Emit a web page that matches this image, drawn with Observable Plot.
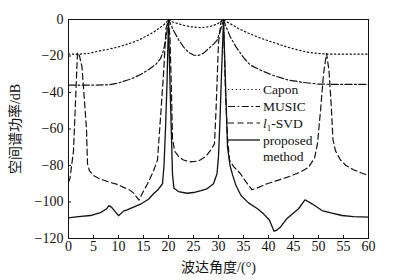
<!DOCTYPE html>
<html>
<head>
<meta charset="utf-8">
<script src="https://cdn.jsdelivr.net/npm/d3@7"></script>
<script src="https://cdn.jsdelivr.net/npm/@observablehq/plot@0.6"></script>
<style>
  html, body { margin: 0; padding: 0; background: #fff; }
</style>
</head>
<body>
<div id="chart"></div>
<script>
// ---- data ----
const xTicks = [0, 5, 10, 15, 20, 25, 30, 35, 40, 45, 50, 55, 60];
const yTicks = [0, -20, -40, -60, -80, -100, -120];

const caponX = [0, 2, 4, 6, 8, 10, 12, 13, 14, 16, 17, 18, 19, 19.5, 20, 20.5, 21, 22, 23.2, 24.5, 26.5, 28, 29, 29.8, 30.5, 31, 31.5, 32, 33, 34, 36, 38, 40, 42, 44, 46, 48, 50, 52, 56, 60];
const caponY = [-19, -19, -18.6, -17.3, -16.3, -15, -13.3, -12.4, -11.3, -8.5, -7, -5, -3, -1.8, 0, -1, -1.5, -2.3, -3.3, -4, -4.5, -4, -3.2, -2.3, -1.2, 0, -1, -1.8, -3.3, -5, -7.5, -9.8, -11.7, -13.5, -15.3, -16.8, -18, -18.6, -19, -19, -19];

const musicX = [0, 4, 8, 10, 12, 13, 14.5, 16, 17.5, 18.4, 19, 19.5, 20, 20.5, 21, 22, 23, 24, 25, 26, 27, 28, 29, 29.7, 30.5, 31, 31.5, 32.4, 33.5, 35.2, 36.4, 38.6, 41, 44, 47, 50, 55, 60];
const musicY = [-36, -36, -35.8, -34.8, -33, -32, -30, -27.5, -24.5, -21.5, -17, -10, 0, -3, -6, -11, -15, -18, -19.5, -19.7, -18.5, -16, -13.5, -11.5, -5, 0, -4, -9.7, -15, -21.5, -25, -28, -30.7, -33.2, -34.5, -35.4, -35.6, -35.6];

const l1svdX = [0, 0.3, 1, 1.4, 1.8, 2.2, 2.7, 3.2, 3.6, 3.8, 4.2, 5, 6, 8, 10, 11, 12, 13, 14.1, 15, 15.8, 17, 17.8, 18.5, 19, 19.5, 20, 20.3, 20.6, 20.8, 21.2, 22, 23, 24.5, 26, 27.5, 28.6, 29.2, 29.5, 30, 30.5, 31, 31.4, 31.8, 32.2, 33, 34.4, 35.5, 36.7, 38, 39.7, 42, 44, 46.4, 48, 49.2, 49.8, 50.4, 51, 51.6, 52.1, 52.5, 52.9, 53.4, 54.4, 55.5, 57, 58.5, 60];
const l1svdY = [-89, -87, -72, -45, -18, -20, -26, -45, -60, -79, -83, -85.5, -87, -89, -90.5, -92, -93, -95, -99, -94, -90, -83, -77, -50, -30, -5, 0, -10, -40, -65, -72, -75, -77, -78, -77.5, -75, -71, -68, -50, -13, -1, 0, -40, -65, -77, -80.5, -84.5, -89, -93.3, -92, -90, -88, -86.2, -83.6, -81, -76, -68, -50, -30, -18.5, -28, -45, -66, -72, -77, -80, -82.3, -84, -85.5];

const proposedX = [0, 2, 4.4, 6.4, 7.5, 8.1, 8.6, 10, 11, 11.7, 13, 14.4, 16, 17, 18, 18.8, 19.1, 19.4, 19.7, 20, 20.3, 20.6, 20.8, 21.1, 22, 23.7, 25, 26.5, 27.7, 29, 29.7, 30, 30.3, 30.6, 31, 31.4, 31.8, 32.3, 32.8, 33.5, 34.5, 36, 37.8, 39, 40.2, 41.1, 41.6, 42.3, 43.7, 45, 46, 47.3, 48.7, 50.7, 52.5, 54.7, 57, 60];
const proposedY = [-108.7, -108, -107.4, -105.8, -104, -102, -102.8, -107.5, -105, -104.3, -102.8, -101.2, -98.5, -95.5, -93, -90, -80, -60, -35, 0, -35, -65, -85, -92.5, -94.3, -95.2, -94.8, -93.8, -92.8, -90, -84.5, -75, -55, -30, 0, -35, -70, -80, -85, -91, -96.4, -100.5, -103.7, -106.5, -110, -116, -115.5, -114, -109, -106, -103.7, -98.8, -101, -104.7, -106, -107.4, -108, -108.3];

const series = [
  {name: "Capon",    xs: caponX,    ys: caponY,    dash: "1.3,2.6",    width: 1.2},
  {name: "MUSIC",    xs: musicX,    ys: musicY,    dash: "7,2.5,1.8,2.5", width: 1.2},
  {name: "l1-SVD",   xs: l1svdX,    ys: l1svdY,    dash: "6,3.5",      width: 1.2},
  {name: "proposed", xs: proposedX, ys: proposedY, dash: null,         width: 1.3}
];

const W = 401, H = 280;
const mL = 68, mR = 33, mT = 19, mB = 42;
const innerW = W - mL - mR, innerH = H - mT - mB;

const lineMarks = series.map(s => Plot.line(s.xs.map((x, i) => ({x, y: s.ys[i]})), {
  x: "x", y: "y", stroke: "#111", strokeWidth: s.width,
  strokeDasharray: s.dash, curve: "linear"
}));

const chart = Plot.plot({
  width: W, height: H,
  marginLeft: mL, marginRight: mR, marginTop: mT, marginBottom: mB,
  style: {fontFamily: "'Liberation Serif', 'Noto Sans CJK SC', serif", fontSize: "14px", color: "#111", background: "#fff"},
  x: {domain: [0, 60]},
  y: {domain: [-120, 0]},
  marks: [
    ...lineMarks,
    Plot.ruleX(xTicks, {x: d => d, insetTop: innerH - 3, stroke: "#111"}),
    Plot.ruleY(yTicks, {y: d => d, insetRight: innerW - 3, stroke: "#111"}),
    Plot.axisX({ticks: xTicks, tickSize: 0, tickPadding: 3, label: "波达角度/(°)", labelAnchor: "center", labelArrow: "none", labelOffset: 33, fontSize: 14}),
    Plot.axisY({ticks: yTicks, tickSize: 0, tickPadding: 5, label: "空间谱功率/dB", labelAnchor: "center", labelArrow: "none", labelOffset: 58, fontSize: 14}),
    Plot.frame({stroke: "#111", strokeWidth: 1})
  ]
});
document.getElementById("chart").appendChild(chart);

// ---- legend (inside the plot area, upper right) ----
const svg = d3.select(chart);
const lg = svg.append("g")
  .attr("font-family", "'Liberation Serif', serif")
  .attr("font-size", 13.5)
  .attr("text-anchor", "start")
  .attr("fill", "#111");
const lx0 = 228, lx1 = 260, tx = 263;
const rows = [89.5, 106.5, 123, 140];
series.forEach((s, i) => {
  lg.append("line").attr("x1", lx0).attr("x2", lx1).attr("y1", rows[i]).attr("y2", rows[i])
    .attr("stroke", "#111").attr("stroke-width", s.width)
    .attr("stroke-dasharray", s.dash);
});
lg.append("text").attr("x", tx).attr("y", rows[0]).attr("dy", "0.35em").text("Capon");
lg.append("text").attr("x", tx).attr("y", rows[1]).attr("dy", "0.35em").text("MUSIC");
const t3 = lg.append("text").attr("x", tx).attr("y", rows[2]).attr("dy", "0.35em");
t3.append("tspan").attr("font-style", "italic").text("l");
t3.append("tspan").attr("font-size", 9).attr("dy", 3).text("1");
t3.append("tspan").attr("dy", -3).text("-SVD");
lg.append("text").attr("x", tx).attr("y", rows[3]).attr("dy", "0.35em").text("proposed");
lg.append("text").attr("x", tx).attr("y", rows[3] + 16).attr("dy", "0.35em").text("method");
</script>
</body>
</html>
